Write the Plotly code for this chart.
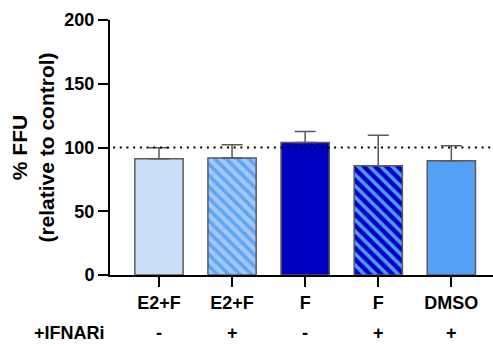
import plotly.graph_objects as go

categories = ["E2+F", "E2+F", "F", "F", "DMSO"]
ifnari = ["-", "+", "-", "+", "+"]
means = [91.2, 91.7, 104.0, 85.7, 89.6]
errors = [8.6, 10.5, 8.6, 24.0, 11.8]
reference_level = 100

bar_colors = ["#c9dff8", "#a2c8f7", "#0000c0", "#0000c4", "#55a0f7"]
pattern_shapes = ["", "\\", "", "\\", ""]
pattern_fg = ["#c9dff8", "#5fa5f7", "#0000c0", "#4f9af2", "#55a0f7"]

FONT = "Liberation Sans, Arial, sans-serif"
x_idx = list(range(len(categories)))

fig = go.Figure()
for i in x_idx:
    marker = dict(color=bar_colors[i], line=dict(color="#5a5a5a", width=1.5))
    if pattern_shapes[i]:
        marker["pattern"] = dict(shape=pattern_shapes[i], fgcolor=pattern_fg[i], bgcolor=bar_colors[i],
                                 size=8, solidity=0.45, fillmode="replace")
    fig.add_trace(go.Bar(
        x=[i], y=[means[i]], width=0.66, marker=marker,
        error_y=dict(type="data", array=[errors[i]], symmetric=False, arrayminus=[0],
                     color="#5a5a5a", thickness=1.5, width=10.5),
        showlegend=False,
    ))

fig.add_shape(type="line", xref="paper", yref="y", x0=0.008, x1=1, y0=reference_level, y1=reference_level,
              line=dict(color="black", width=2, dash="2px,4.7px"), layer="above")

fig.update_layout(
    width=493, height=346, barmode="overlay",
    margin=dict(l=110, r=0, t=20, b=70.5, autoexpand=False),
    paper_bgcolor="white", plot_bgcolor="white",
    font=dict(family=FONT, size=18, color="black"),
    xaxis=dict(
        range=[-0.67, 4.57], tickmode="array", tickvals=x_idx,
        ticktext=["<b>%s</b>" % c for c in categories],
        showline=True, linecolor="black", linewidth=2,
        ticks="outside", ticklen=10, tickwidth=2, tickcolor="black",
        showgrid=False, zeroline=False, tickfont=dict(size=18), automargin=False,
    ),
    yaxis=dict(
        range=[0, 200], tickvals=[0, 50, 100, 150, 200],
        ticktext=["<b>%d</b>" % v for v in [0, 50, 100, 150, 200]],
        showline=True, linecolor="black", linewidth=2,
        ticks="outside", ticklen=10, tickwidth=2, tickcolor="black",
        showgrid=False, zeroline=False, tickfont=dict(size=18), automargin=False,
        title=dict(text="<b>% FFU<br>(relative to control)</b>", font=dict(size=21), standoff=4),
    ),
)

row_y = -(334 - 275.5) / 255.5
fig.add_annotation(text="<b>+IFNARi</b>", xref="paper", yref="paper", x=(69 - 110) / 383, y=row_y,
                   xanchor="center", yanchor="middle", showarrow=False, font=dict(size=18))
for i, s in enumerate(ifnari):
    fig.add_annotation(text="<b>%s</b>" % s, xref="x", yref="paper", x=i, y=row_y,
                       xanchor="center", yanchor="middle", showarrow=False, font=dict(size=18))

fig.write_html("out.html", config={"displayModeBar": False},
               post_script="document.body.style.margin='0';document.body.style.overflow='hidden';")
